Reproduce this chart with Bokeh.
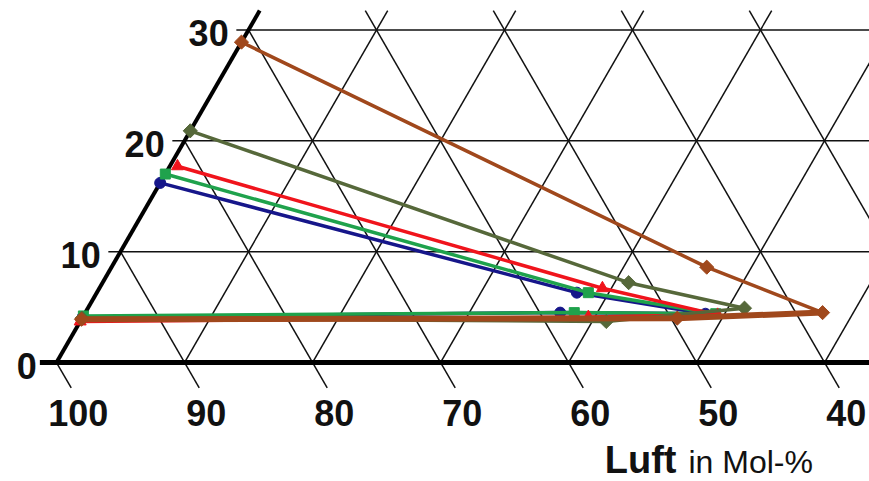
import numpy as np
from bokeh.plotting import figure
from bokeh.models import Range1d, ColumnDataSource
from bokeh.core.properties import value
from bokeh.embed import file_html
from bokeh.resources import INLINE

# ---- data (Luft in Mol-%, gas in Mol-%) ----
luft_ticks = [100, 90, 80, 70, 60, 50, 40]
gas_ticks = [0, 10, 20, 30]

blue_luft = [83.8, 56.2, 47.1, 58.4, 95.9]
blue_gas = [16.2, 6.3, 4.4, 4.5, 4.1]
green_luft = [83.0, 55.3, 46.3, 57.3, 95.8]
green_gas = [17.0, 6.3, 4.4, 4.5, 4.2]
red_luft = [81.7, 54.0, 46.2, 56.4, 96.3]
red_gas = [17.7, 6.7, 4.3, 4.1, 3.7]
olive_luft = [79.1, 51.7, 43.8, 55.2, 96.0]
olive_gas = [20.9, 7.2, 4.9, 3.7, 4.0]
brown_luft = [71.1, 44.9, 37.9, 49.5, 96.1]
brown_gas = [28.9, 8.6, 4.5, 4.0, 3.9]

S3 = np.sqrt(3) / 2


def tern(L, c):
    L = np.asarray(L, dtype=float)
    c = np.asarray(c, dtype=float)
    return 100 - L - c / 2, c * S3


FONT = value("Liberation Sans")
PX = 12.8  # pixels per unit
X0 = -56 / PX
X1 = X0 + 869 / PX
Y1 = 362 / PX
Y0 = Y1 - 481 / PX

p = figure(width=869, height=481, x_range=Range1d(X0, X1), y_range=Range1d(Y0, Y1),
           output_backend="svg", toolbar_location=None, min_border=0)
p.axis.visible = False
p.grid.visible = False
p.outline_line_color = None
p.background_fill_color = "white"

ctop = 31.75
ytop = ctop * S3
tick = 0.95
ext = 2.3

# grid: "/" lines (constant third component)
xs, ys = [], []
for b in range(10, 70, 10):
    xs.append([b, b + ctop / 2]); ys.append([0, ytop])
# "\" lines (constant Luft)
for L in range(100, 10, -10):
    cmax = min(100 - L, ctop)
    x_a, y_a = tern(L, -ext)
    x_b, y_b = tern(L, cmax)
    xs.append([float(x_a), float(x_b)]); ys.append([float(y_a), float(y_b)])
# horizontal lines
for c in gas_ticks[1:]:
    xs.append([c / 2 - tick, X1 + 1]); ys.append([c * S3, c * S3])
p.multi_line(xs, ys, line_color="#111111", line_width=1.5)

# thick axes
p.line([-1.3, X1 + 1], [0, 0], line_color="black", line_width=5)
p.line([0, ctop / 2], [0, ytop], line_color="black", line_width=4)

# series
series = [
    (blue_luft, blue_gas, "#16168a", "circle", 11, 0),
    (green_luft, green_gas, "#1fa24c", "square", 10, 0),
    (red_luft, red_gas, "#f0141c", "triangle", 12, 0),
    (olive_luft, olive_gas, "#56683a", "square", 10, 45),
    (brown_luft, brown_gas, "#a0481c", "square", 10, 45),
]
for L, c, col, mk, sz, ang in series:
    x, y = tern(L, c)
    lw_low = 6 if col == "#a0481c" else 3.5
    p.line(x[:3], y[:3], line_color=col, line_width=3.5)
    p.line(x[2:], y[2:], line_color=col, line_width=lw_low)
    p.scatter(x, y, marker=mk, size=sz, angle=np.deg2rad(ang), fill_color=col, line_color=col)

# bottom tick labels
bl = ColumnDataSource(dict(x=[100 - L + 1.7 for L in luft_ticks], y=[-3.98] * len(luft_ticks),
                           t=[str(L) for L in luft_ticks]))
p.text("x", "y", text="t", source=bl, text_font=FONT, text_font_size="36px",
       text_font_style="bold", text_align="center", text_baseline="middle", text_color="#111111")

# left tick labels
ll = ColumnDataSource(dict(x=[c / 2 - tick - 0.6 for c in gas_ticks], y=[c * S3 - 0.25 for c in gas_ticks],
                           t=[str(c) for c in gas_ticks]))
p.text("x", "y", text="t", source=ll, text_font=FONT, text_font_size="36px",
       text_font_style="bold", text_align="right", text_baseline="middle", text_color="#111111")

# axis title
p.text(x=[(676 - 56) / PX], y=[(362 - 459) / PX], text=["Luft"], text_font=FONT, text_font_size="38px",
       text_font_style="bold", text_align="right", text_baseline="middle", text_color="#111111")
p.text(x=[(688 - 56) / PX], y=[(362 - 461) / PX], text=["in Mol-%"], text_font=FONT, text_font_size="32px",
       text_align="left", text_baseline="middle", text_color="#111111")

open("out.html", "w").write(file_html(p, INLINE))
